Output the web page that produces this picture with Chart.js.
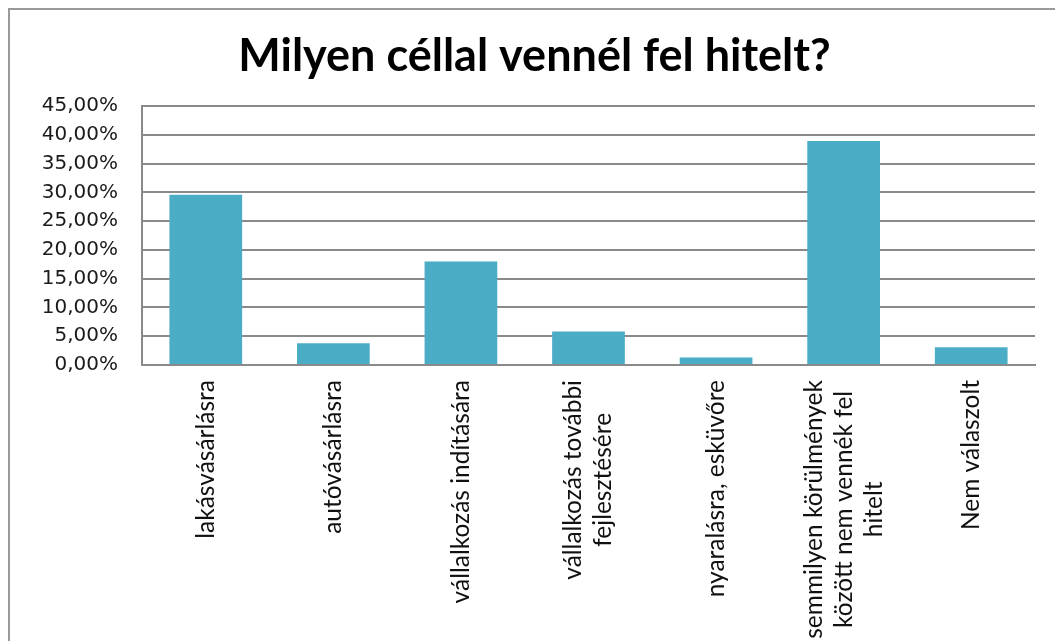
<!DOCTYPE html>
<html>
<head>
<meta charset="utf-8">
<script src="https://cdn.jsdelivr.net/npm/chart.js@4/dist/chart.umd.min.js"></script>
<style>
  html, body { margin: 0; padding: 0; background: #fff; }
  #wrap { position: relative; width: 1055px; height: 641px; overflow: hidden; }
  #frame {
    position: absolute; left: 8px; top: 8px; width: 1100px; height: 700px;
    border-left: 2px solid #9a9a9a; border-top: 2px solid #9a9a9a;
  }
  #chart { position: absolute; left: 0; top: 0; }
</style>
</head>
<body>
<div id="wrap">
  <div id="frame"></div>
  <canvas id="chart" width="1055" height="641"></canvas>
</div>
<script>
const chartTitle = "Milyen céllal vennél fel hitelt?";
const categories = [
  ["lakásvásárlásra"],
  ["autóvásárlásra"],
  ["vállalkozás indítására"],
  ["vállalkozás további", "fejlesztésére"],
  ["nyaralásra, esküvőre"],
  ["semmilyen körülmények", "között nem vennék fel", "hitelt"],
  ["Nem válaszolt"],
];
const shares = [29.6, 3.8, 18.0, 5.8, 1.3, 38.9, 3.1];
const yMax = 45;
const yStep = 5;

const barColor = "#4BACC6";
const gridColor = "#8a8a8a";

// category labels are drawn rotated, each block centred line by line like the original
const rotatedLabels = {
  id: "rotatedLabels",
  afterDraw(chart) {
    const xs = chart.scales.x;
    const ctx = chart.ctx;
    const lineH = 30;
    ctx.save();
    ctx.font = "24.5px Lato";
    ctx.fillStyle = "#111";
    ctx.textAlign = "center";
    ctx.textBaseline = "middle";
    categories.forEach((lines, i) => {
      const x = xs.getPixelForValue(i);
      const maxW = Math.max(...lines.map((l) => ctx.measureText(l).width));
      ctx.save();
      ctx.translate(x, xs.top + 15);
      ctx.rotate(-Math.PI / 2);
      lines.forEach((line, j) => {
        const off = (j - (lines.length - 1) / 2) * lineH;
        ctx.fillText(line, -maxW / 2, off);
      });
      ctx.restore();
    });
    ctx.restore();
  },
};

new Chart(document.getElementById("chart"), {
  type: "bar",
  data: {
    labels: categories.map((c) => c.join(" ")),
    datasets: [
      {
        data: shares,
        backgroundColor: barColor,
        barPercentage: 0.57,
        categoryPercentage: 1,
      },
    ],
  },
  options: {
    responsive: false,
    animation: false,
    layout: { padding: { left: 34, right: 20, top: 0, bottom: 0 } },
    plugins: {
      legend: { display: false },
      tooltip: { enabled: false },
      title: {
        display: true,
        text: chartTitle,
        color: "#000",
        font: { family: "Lato", size: 45, weight: "bold" },
        padding: { top: 29, bottom: 23 },
      },
    },
    scales: {
      x: {
        grid: { display: false },
        border: { display: true, color: gridColor, width: 2 },
        ticks: { display: false },
        afterFit(scale) { scale.height = 276; },
      },
      y: {
        min: 0,
        max: yMax,
        grid: { color: gridColor, lineWidth: 2, drawTicks: false },
        border: { display: true, color: gridColor, width: 2 },
        ticks: {
          stepSize: yStep,
          padding: 24,
          color: "#1a1a1a",
          font: { family: "DejaVu Sans", size: 20 },
          callback: (v) => v.toFixed(2).replace(".", ",") + "%",
        },
        afterFit(scale) { scale.width = 108; },
      },
    },
  },
  plugins: [rotatedLabels],
});
</script>
</body>
</html>
